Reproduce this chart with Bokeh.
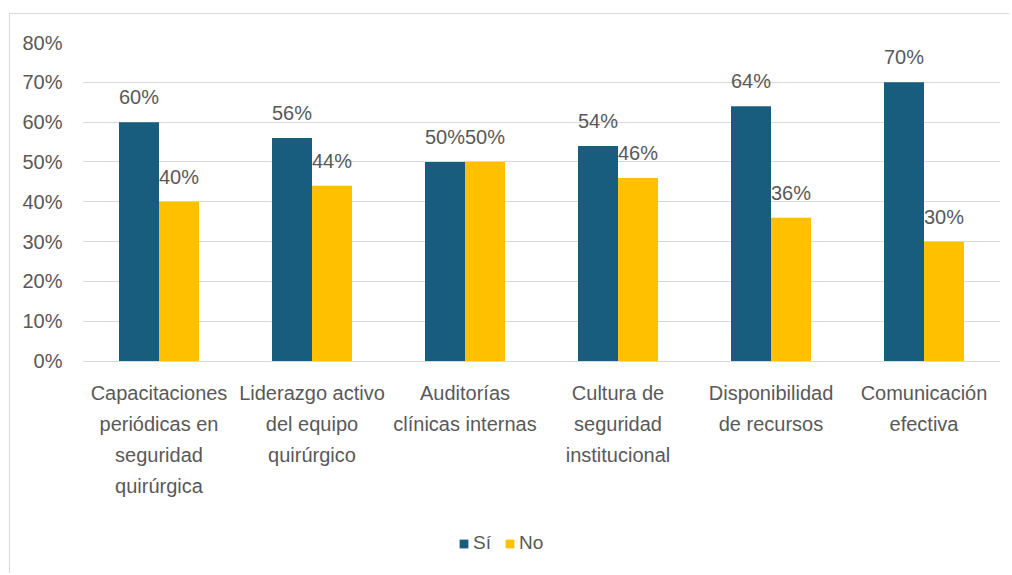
from bokeh.plotting import figure
from bokeh.models import ColumnDataSource, FactorRange, Range1d, Legend, LegendItem, NumeralTickFormatter, FixedTicker
from bokeh.transform import dodge
from bokeh.core.properties import value
from bokeh.embed import file_html
from bokeh.resources import INLINE

categories = [
    "Capacitaciones\nperiódicas en\nseguridad\nquirúrgica",
    "Liderazgo activo\ndel equipo\nquirúrgico",
    "Auditorías\nclínicas internas",
    "Cultura de\nseguridad\ninstitucional",
    "Disponibilidad\nde recursos",
    "Comunicación\nefectiva",
]
series = ["Sí", "No"]
si_values = [0.60, 0.56, 0.50, 0.54, 0.64, 0.70]
no_values = [0.40, 0.44, 0.50, 0.46, 0.36, 0.30]
y_ticks = [0.0, 0.1, 0.2, 0.3, 0.4, 0.5, 0.6, 0.7, 0.8]

FONT = "Liberation Sans"
TXT = "#595959"
C_SI = "#195D7E"
C_NO = "#FFC000"

src = ColumnDataSource(dict(
    cat=categories,
    si=si_values,
    no=no_values,
    base=[0.0] * len(categories),
    si_lab=[f"{round(v*100)}%" for v in si_values],
    no_lab=[f"{round(v*100)}%" for v in no_values],
))

# frame extends below the 0% line so the category labels and legend sit inside it
p = figure(width=1000, height=560, x_range=FactorRange(*categories), y_range=Range1d(-0.5358, 0.8),
           x_axis_location=None, output_backend="svg", toolbar_location=None)
p.margin = (13, 0, 0, 9)
p.styles = {"border-left": "1px solid #d9d9d9", "border-top": "1px solid #d9d9d9"}
p.min_border_left = 72
p.min_border_right = 10
p.min_border_top = 28
p.min_border_bottom = 0
p.outline_line_color = None
p.background_fill_color = "white"
p.border_fill_color = "white"

bw = 0.2615
r_si = p.vbar(x=dodge("cat", -bw / 2, range=p.x_range), top="si", width=bw, source=src,
              fill_color=C_SI, line_color=None)
r_no = p.vbar(x=dodge("cat", bw / 2, range=p.x_range), top="no", width=bw, source=src,
              fill_color=C_NO, line_color=None)

p.text(x=dodge("cat", -bw / 2, range=p.x_range), y="si", text="si_lab", source=src,
       text_align="center", text_baseline="alphabetic", y_offset=-25,
       text_font=value(FONT), text_font_size="20px", text_color=TXT)
p.text(x=dodge("cat", bw / 2, range=p.x_range), y="no", text="no_lab", source=src,
       text_align="center", text_baseline="alphabetic", y_offset=-25,
       text_font=value(FONT), text_font_size="20px", text_color=TXT)

# category labels under the 0% line
p.text(x="cat", y="base", text="cat", source=src,
       text_align="center", text_baseline="top", y_offset=21, text_line_height=1.4,
       text_font=value(FONT), text_font_size="20px", text_color=TXT)

p.xgrid.grid_line_color = None
p.ygrid.grid_line_color = "#d9d9d9"
p.ygrid.grid_line_width = 1

p.yaxis.ticker = FixedTicker(ticks=y_ticks)
p.yaxis.formatter = NumeralTickFormatter(format="0%")
p.yaxis.axis_line_color = None
p.yaxis.major_tick_line_color = None
p.yaxis.minor_tick_line_color = None
p.yaxis.major_tick_out = 0
p.yaxis.major_label_standoff = 20
p.yaxis.major_label_text_font = FONT
p.yaxis.major_label_text_font_size = "20px"
p.yaxis.major_label_text_color = TXT

legend = Legend(items=[LegendItem(label=series[0], renderers=[r_si]),
                       LegendItem(label=series[1], renderers=[r_no])],
                location=(376, 20), orientation="horizontal", padding=0, margin=0,
                border_line_alpha=0, background_fill_alpha=0,
                glyph_width=11, glyph_height=11, label_standoff=4, spacing=11,
                label_text_font=FONT, label_text_font_size="19px", label_text_color=TXT)
p.add_layout(legend)

open("out.html", "w").write(file_html(p, INLINE))
